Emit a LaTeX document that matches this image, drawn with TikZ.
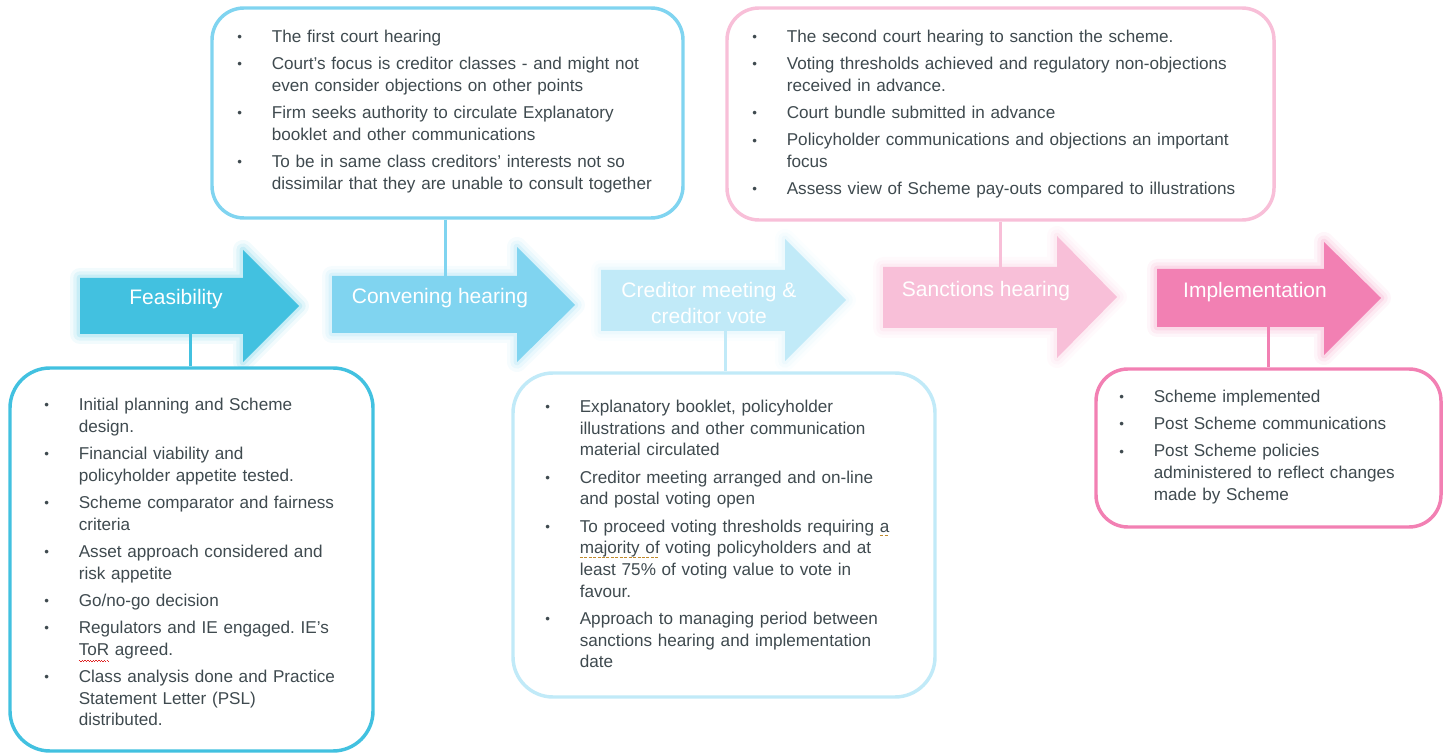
\documentclass[tikz,border=0pt]{standalone}
\usepackage{fontspec}
\setmainfont{Liberation Sans}

\definecolor{feascol}{HTML}{42C1E0}
\definecolor{convcol}{HTML}{80D4F0}
\definecolor{credcol}{HTML}{C1EAF8}
\definecolor{sanccol}{HTML}{F8BFD8}
\definecolor{implcol}{HTML}{F280B3}
\definecolor{ink}{HTML}{3F4A4F}
\definecolor{spellred}{HTML}{E02424}
\definecolor{grammar}{HTML}{C08A2C}

\newcommand\bodyfont{\fontsize{12.85}{16.3}\selectfont\frenchspacing}
\newcommand\bul[1]{\noindent\hangindent=25.9pt\hangafter=1%
  \makebox[25.9pt][l]{\raisebox{0.6pt}{\fontsize{10}{10}\selectfont\textbullet}}\strut#1\par\vskip4.1pt}
% word marks under misspelt / flagged words
\newcommand\spell[1]{\setbox0\hbox{#1}\rlap{\raisebox{-4.6pt}[0pt][0pt]{\hbox to\wd0{%
  \textcolor{spellred}{\xleaders\hbox{\rule{1pt}{0.7pt}\raisebox{-0.8pt}{\rule{1pt}{0.7pt}}}\hfill}}}}#1}
\newcommand\gram[1]{\setbox0\hbox{#1}\rlap{\raisebox{-3.2pt}[0pt][0pt]{\hbox to\wd0{%
  \textcolor{grammar}{\xleaders\hbox{\rule{2.2pt}{0.9pt}\hskip1.1pt}\hfill}}}}#1}

\tikzset{
  halo/.style={preaction={draw=#1, draw opacity=0.07, line width=15pt},
               preaction={draw=#1, draw opacity=0.10, line width=10pt},
               preaction={draw=#1, draw opacity=0.16, line width=5pt}},
  stage/.style={fill=#1, halo=#1},
  stagelabel/.style={inner sep=0, text=white, font=\fontsize{15.75}{19.5}\selectfont, align=center},
  panel/.style={draw=#1, line width=2.6pt, rounded corners=24pt, fill=white, inner sep=0},
  link/.style={draw=#1, line width=2.25pt},
  list/.style={inner sep=0, text width=400pt, align=left, text=ink, font=\bodyfont}
}

\begin{document}
\begin{tikzpicture}[x=0.75pt, y=-0.75pt, line join=round]
\useasboundingbox (0,0) rectangle (1445,755);

% stage arrows
\fill[stage=feascol] (80,278) -- (243,278) -- (243,250) -- (299,306) -- (243,362) -- (243,334) -- (80,334) -- cycle;
\fill[stage=convcol] (332,276) -- (517,276) -- (517,247) -- (575,305) -- (517,362) -- (517,333) -- (332,333) -- cycle;
\fill[stage=credcol] (601,270) -- (785,270) -- (785,239) -- (846,300) -- (785,361) -- (785,331) -- (601,331) -- cycle;
\fill[stage=sanccol] (883,267) -- (1057,267) -- (1057,236) -- (1117,297) -- (1057,358) -- (1057,328) -- (883,328) -- cycle;
\fill[stage=implcol] (1157,269) -- (1324,269) -- (1324,242) -- (1381,298) -- (1324,355) -- (1324,327) -- (1157,327) -- cycle;

\node[stagelabel] (feaslbl) at (176,299) {Feasibility};
\node[stagelabel] (convlbl) at (440,298) {Convening hearing};
\node[stagelabel] (credlbl) at (709,303) {Creditor meeting \&\\creditor vote};
\node[stagelabel] (sanclbl) at (986,291) {Sanctions hearing};
\node[stagelabel] (impllbl) at (1255,292) {Implementation};

% where the links meet the arrows
\coordinate (feasfoot) at (190,334);
\coordinate (convhead) at (445,276);
\coordinate (credfoot) at (725,331);
\coordinate (sanchead) at (1000,267);
\coordinate (implfoot) at (1268,327);

% note boxes
\node[panel=feascol, rounded corners=30pt, minimum width=272.25pt, minimum height=287.25pt] (feasbox) at (191.5,559.5) {};
\node[panel=convcol, minimum width=353.25pt, minimum height=157.5pt] (convbox) at (447.5,113) {};
\node[panel=credcol, rounded corners=30pt, minimum width=316.5pt, minimum height=243pt] (credbox) at (724,535) {};
\node[panel=sanccol, minimum width=410.25pt, minimum height=159pt] (sancbox) at (1000.5,114) {};
\node[panel=implcol, minimum width=258.75pt, minimum height=118.5pt] (implbox) at (1268.5,448) {};

\draw[link=feascol] (feasfoot) -- (feasfoot |- feasbox.north);
\draw[link=convcol] (convbox.south -| convhead) -- (convhead);
\draw[link=credcol] (credfoot) -- (credfoot |- credbox.north);
\draw[link=sanccol] (sancbox.south -| sanchead) -- (sanchead);
\draw[link=implcol] (implfoot) -- (implfoot |- implbox.north);

% bullet text
\node[list, anchor=base west] (convtext) at (237,42.5) {%
  \bul{The first court hearing}
  \bul{Court’s focus is creditor classes - and might not\newline even consider objections on other points}
  \bul{Firm seeks authority to circulate Explanatory\newline booklet and other communications}
  \bul{To be in same class creditors’ interests not so\newline dissimilar that they are unable to consult together}};

\node[list, anchor=base west] (sanctext) at (752,42.5) {%
  \bul{The second court hearing to sanction the scheme.}
  \bul{Voting thresholds achieved and regulatory non-objections\newline received in advance.}
  \bul{Court bundle submitted in advance}
  \bul{Policyholder communications and objections an important\newline focus}
  \bul{Assess view of Scheme pay-outs compared to illustrations}};

\node[list, anchor=base west] (feastext) at (44,410.5) {%
  \bul{Initial planning and Scheme\newline design.}
  \bul{Financial viability and\newline policyholder appetite tested.}
  \bul{Scheme comparator and fairness\newline criteria}
  \bul{Asset approach considered and\newline risk appetite}
  \bul{Go/no-go decision}
  \bul{Regulators and IE engaged. IE’s\newline \spell{ToR} agreed.}
  \bul{Class analysis done and Practice\newline Statement Letter (PSL)\newline distributed.}};

\node[list, anchor=base west] (credtext) at (545,412.5) {%
  \bul{Explanatory booklet, policyholder\newline illustrations and other communication\newline material circulated}
  \bul{Creditor meeting arranged and on-line\newline and postal voting open}
  \bul{To proceed voting thresholds requiring \gram{a}\newline \gram{majority of} voting policyholders and at\newline least 75\% of voting value to vote in\newline favour.}
  \bul{Approach to managing period between\newline sanctions hearing and implementation\newline date}};

\node[list, anchor=base west] (impltext) at (1119,402.5) {%
  \bul{Scheme implemented}
  \bul{Post Scheme communications}
  \bul{Post Scheme policies\newline administered to reflect changes\newline made by Scheme}};
\end{tikzpicture}
\end{document}
